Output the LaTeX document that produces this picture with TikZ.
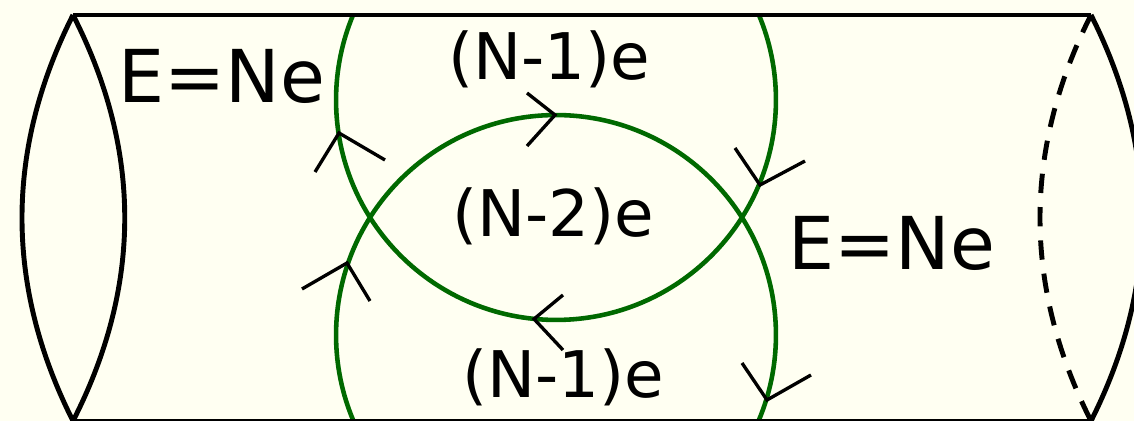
\documentclass[tikz,border=0pt]{standalone}
\usepackage{fontspec}
\setmainfont{DejaVu Sans}
\definecolor{bg}{RGB}{255,255,242}
\definecolor{loopgreen}{RGB}{0,105,0}
\tikzset{
  edge/.style={line width=2.8pt, black},
  loopline/.style={line width=2.6pt, loopgreen},
  arm/.style={line width=1.9pt, black},
  big/.style={font=\fontsize{41.5}{44}\selectfont, inner sep=0pt, anchor=base west},
  lab/.style={font=\fontsize{36.6}{39}\selectfont, inner sep=0pt, anchor=base west},
}
\begin{document}
\begin{tikzpicture}[x=0.02cm,y=-0.02cm]
\fill[bg] (0,0) rectangle (1134,421);
\useasboundingbox (0,0) rectangle (1134,421);
% green loops
\begin{scope}
  \clip (0,15) rectangle (1134,421);
  \draw[loopline] (556,100) circle[radius=4.4cm];
  \draw[loopline] (556,335) circle[radius=4.4cm];
\end{scope}
% cylinder
\coordinate (TL) at (73,15);
\coordinate (BL) at (73,421);
\coordinate (TR) at (1091,15);
\coordinate (BR) at (1091,421);
\draw[edge] (TL) -- (TR);
\draw[edge] (BL) -- (BR);
\draw[edge] (TL) .. controls (5,150) and (5,286) .. (BL);
\draw[edge] (TL) .. controls (142,150) and (142,286) .. (BL);
\draw[edge, dash pattern=on 11pt off 8pt] (TR) .. controls (1023,150) and (1023,286) .. (BR);
\draw[edge] (TR) .. controls (1159,150) and (1159,286) .. (BR);
% arrowheads
\draw[arm] (315,172) -- (339,133) -- (385,160);
\draw[arm] (302,289) -- (347,263) -- (370,301);
\draw[arm] (527,93) -- (555,115) -- (527,146);
\draw[arm] (563,295) -- (534,319) -- (563,350);
\draw[arm] (735,148) -- (760,185) -- (805,161);
\draw[arm] (742,363) -- (767,400) -- (811,375);
% labels
\node[big] (eL) at (118,103) {E=Ne};
\node[big] (eR) at (788,270) {E=Ne};
\node[lab] (top) at (448,80) {(N-1)e};
\node[lab] (mid) at (452,237) {(N-2)e};
\node[lab] (bot) at (462,398) {(N-1)e};
\end{tikzpicture}
\end{document}
